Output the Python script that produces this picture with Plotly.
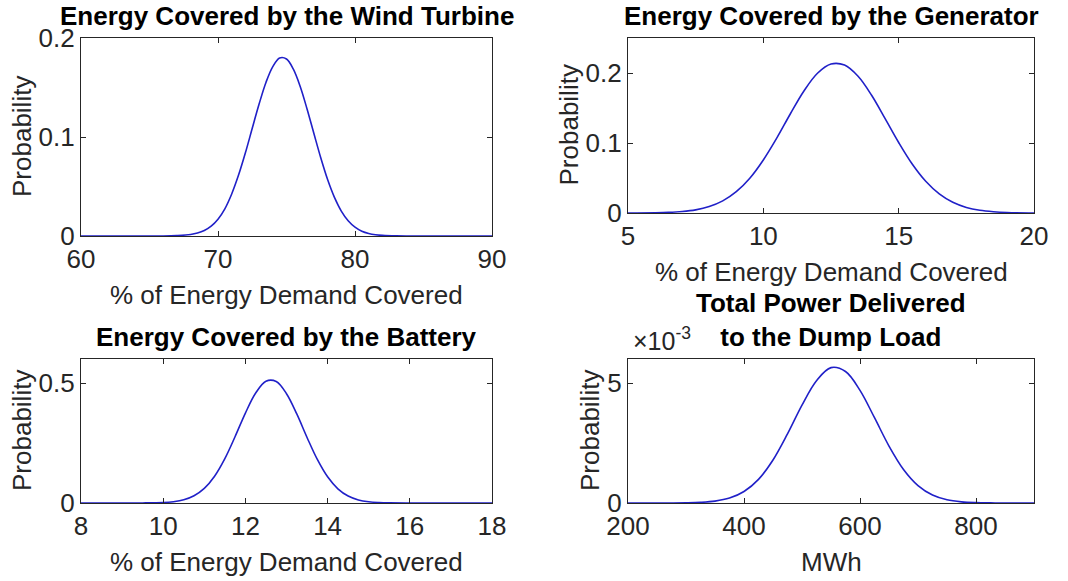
import plotly.graph_objects as go

# ---- sampled probability curves (x, probability) ----
wind_x = [60, 66, 67, 68, 68.5, 69, 69.5, 70, 70.5, 71, 71.5, 72, 72.5, 73, 73.5, 74,
          74.5, 75, 75.5, 76, 76.5, 77, 77.5, 78, 78.5, 79, 79.5, 80, 80.5, 81,
          81.5, 82, 83, 84, 90]
wind_p = [0, 0, 0.0004, 0.0015, 0.0030, 0.0056, 0.0100, 0.0170, 0.0275, 0.0425, 0.0615,
          0.0840, 0.1088, 0.1333, 0.1551, 0.1711, 0.1798, 0.1788, 0.1685, 0.1510,
          0.1283, 0.1035, 0.0790, 0.0570, 0.0390, 0.0252, 0.0154, 0.0089, 0.0048, 0.0025,
          0.0012, 0.0006, 0.0001, 0, 0]

gen_x = [5, 6, 6.5, 7, 7.5, 8, 8.5, 9, 9.5, 10, 10.5, 11, 11.5, 12, 12.5, 13,
         13.5, 14, 14.5, 15, 15.5, 16, 16.5, 17, 17.5, 18, 18.5, 19, 20]
gen_p = [0.0001, 0.0004, 0.0009, 0.0021, 0.0045, 0.0092, 0.0173, 0.0304, 0.0497, 0.0758,
         0.1073, 0.1418, 0.1743, 0.1996, 0.2128, 0.2113, 0.1953, 0.1682, 0.1348,
         0.1007, 0.0700, 0.0453, 0.0273, 0.0153, 0.0080, 0.0039, 0.0018, 0.0007, 0.0001]

bat_x = [8, 9.5, 10, 10.25, 10.5, 10.75, 11, 11.25, 11.5, 11.75, 12, 12.25, 12.5,
         12.75, 13, 13.25, 13.5, 13.75, 14, 14.25, 14.5, 14.75, 15, 15.25, 15.5, 16, 18]
bat_p = [0, 0.0002, 0.0019, 0.0054, 0.0133, 0.0300, 0.0608, 0.1116, 0.1850, 0.2770,
         0.3748, 0.4581, 0.5075, 0.5062, 0.4554, 0.3710, 0.2731, 0.1816, 0.1091,
         0.0592, 0.0291, 0.0129, 0.0052, 0.0019, 0.0006, 0, 0]

dump_x = [200, 275, 300, 325, 350, 375, 400, 425, 450, 475, 500, 525, 550, 575, 600,
          625, 650, 675, 700, 725, 750, 775, 800, 825, 850, 900]
dump_p = [0, 0.0000020, 0.0000075, 0.0000255, 0.0000768, 0.000204, 0.000477, 0.000984,
          0.001792, 0.002879, 0.004079, 0.005098, 0.005640, 0.005480, 0.004694,
          0.003553, 0.002373, 0.001398, 0.000727, 0.000333, 0.000135, 0.000048, 0.000015,
          0.000004, 0, 0]

# ---- axis settings ----
titles = ["Energy Covered by the Wind Turbine", "Energy Covered by the Generator",
          "Energy Covered by the Battery", "Total Power Delivered<br>to the Dump Load"]
x_titles = ["% of Energy Demand Covered", "% of Energy Demand Covered",
            "% of Energy Demand Covered", "MWh"]
x_ranges = [[60, 90], [5, 20], [8, 18], [200, 900]]
x_ticks = [[60, 70, 80, 90], [5, 10, 15, 20], [8, 10, 12, 14, 16, 18], [200, 400, 600, 800]]
y_ranges = [[0, 0.2], [0, 0.25], [0, 0.6], [0, 0.006]]
y_ticks = [[0, 0.1, 0.2], [0, 0.1, 0.2], [0, 0.5], [0, 0.005]]
y_ticktext = [["0", "0.1", "0.2"], ["0", "0.1", "0.2"], ["0", "0.5"], ["0", "5"]]

W, H = 1068, 581
# plot boxes in pixels: (left, right, top, bottom)
boxes = [(81, 492, 38, 236), (628, 1034, 38, 213), (81, 492, 359, 503), (628, 1034, 359, 503)]

FONT = "Liberation Sans, Arial, sans-serif"
INK = "#262626"
LINE = "#2020c8"

fig = go.Figure()
series = [(wind_x, wind_p), (gen_x, gen_p), (bat_x, bat_p), (dump_x, dump_p)]
for i, (xs, ys) in enumerate(series):
    sfx = "" if i == 0 else str(i + 1)
    fig.add_trace(go.Scatter(x=xs, y=ys, mode="lines",
                             line=dict(color=LINE, width=1.6, shape="spline", smoothing=1.0),
                             xaxis="x" + sfx, yaxis="y" + sfx, showlegend=False, hoverinfo="skip"))

layout = dict(width=W, height=H, margin=dict(l=0, r=0, t=0, b=0, autoexpand=False),
              paper_bgcolor="white", plot_bgcolor="white",
              font=dict(family=FONT, size=26, color=INK))
annotations = []
for i, (l, r, t, b) in enumerate(boxes):
    sfx = "" if i == 0 else str(i + 1)
    common = dict(showline=True, linecolor=INK, linewidth=1.2, mirror="ticks", ticks="inside",
                  ticklen=5, tickwidth=1, tickcolor=INK, showgrid=False, zeroline=False,
                  automargin=False, tickfont=dict(family=FONT, size=26, color=INK))
    layout["xaxis" + sfx] = dict(domain=[l / W, r / W], range=x_ranges[i], tickvals=x_ticks[i],
                                 anchor="y" + sfx, **common)
    layout["yaxis" + sfx] = dict(domain=[1 - b / H, 1 - t / H], range=y_ranges[i], tickvals=y_ticks[i],
                                 ticktext=y_ticktext[i], anchor="x" + sfx, **common)
    cx = (l + r) / 2
    # subplot title
    annotations.append(dict(x=cx / W, y=1 - (t - 5) / H, xref="paper", yref="paper", text="<b>" + titles[i] + "</b>",
                            showarrow=False, xanchor="center", yanchor="bottom",
                            font=dict(family=FONT, size=26, color="black")))
    # x axis title
    annotations.append(dict(x=cx / W, y=1 - (b + 42) / H, xref="paper", yref="paper", text=x_titles[i],
                            showarrow=False, xanchor="center", yanchor="top",
                            font=dict(family=FONT, size=26, color=INK)))

# y axis titles
for i, xc in enumerate([22, 568, 22, 590]):
    l, r, t, b = boxes[i]
    annotations.append(dict(x=xc / W, y=1 - ((t + b) / 2) / H, xref="paper", yref="paper", text="Probability",
                            textangle=-90, showarrow=False, xanchor="center", yanchor="middle",
                            font=dict(family=FONT, size=26, color=INK)))

# exponent marker on the dump-load axis
annotations.append(dict(x=631 / W, y=1 - 357 / H, xref="paper", yref="paper", text="×10<sup>-3</sup>",
                        showarrow=False, xanchor="left", yanchor="bottom",
                        font=dict(family=FONT, size=25, color=INK)))

layout["annotations"] = annotations
fig.update_layout(**layout)
fig.write_html("out.html")
